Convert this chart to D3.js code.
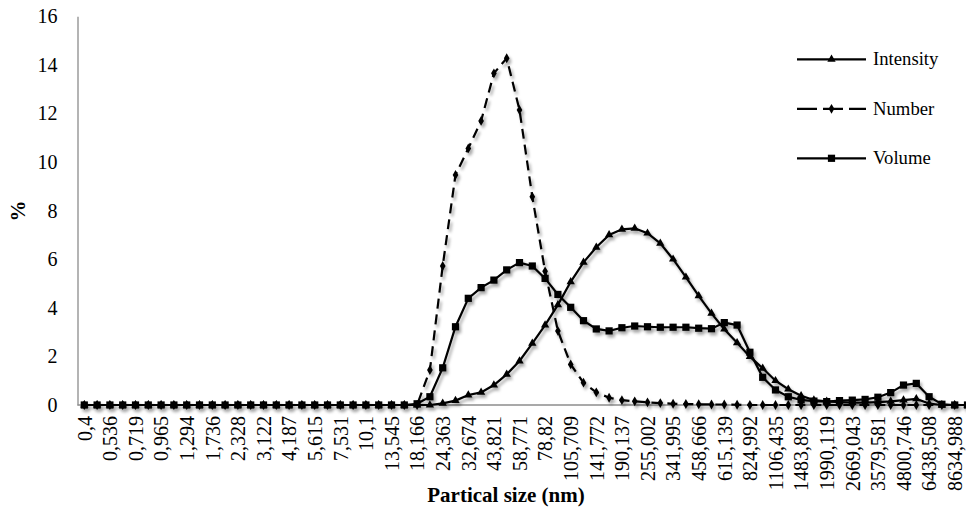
<!DOCTYPE html>
<html>
<head>
<meta charset="utf-8">
<script src="https://cdn.jsdelivr.net/npm/d3@7"></script>
<style>
  body { margin: 0; background: #fff; }
  svg, svg text { font-family: "Liberation Serif", "DejaVu Serif", "Times New Roman", Times, serif !important; }
</style>
</head>
<body>
<div class="chart"></div>
<script>
// DATA ------------------------------------**
const sizes = ['0,4','0,463','0,536','0,621','0,719','0,833','0,965','1,117','1,294','1,499',
  '1,736','2,01','2,328','2,696','3,122','3,615','4,187','4,849','5,615','6,503',
  '7,531','8,721','10,1','11,7','13,545','15,688','18,166','21,038','24,363','28,212',
  '32,674','37,84','43,821','50,746','58,771','68,058','78,82','91,277','105,709','122,416',
  '141,772','164,178','190,137','220,195','255,002','295,3','341,995','396,048','458,666','531,163',
  '615,139','712,379','824,992','955,4','1106,435','1281,35','1483,893','1718,67','1990,119','2305,09',
  '2669,043','3091,5','3579,581','4145,25','4800,746','5560,86','6438,508','7456,22','8634,988','10000'];

const intensity = [0,0,0,0,0,0,0,0,0,0, 0,0,0,0,0,0,0,0,0,0,
  0,0,0,0,0,0,0,0,0.07,0.18, 0.41,0.52,0.82,1.26,1.81,2.54,3.29,4.12,5.07,5.87,
  6.49,7.0,7.23,7.27,7.07,6.65,6.0,5.26,4.49,3.77, 3.12,2.56,1.99,1.51,1.0,0.65,0.38,0.2,0.15,0.12,
  0.1,0.1,0.12,0.15,0.2,0.25,0.06,0,0,0];

const number = [0,0,0,0,0,0,0,0,0,0, 0,0,0,0,0,0,0,0,0,0,
  0,0,0,0,0,0,0,1.44,5.72,9.47, 10.56,11.69,13.65,14.27,12.14,8.57,5.5,3.05,1.67,0.92,
  0.52,0.3,0.2,0.15,0.11,0.08,0.05,0.04,0.03,0.02, 0.02,0.01,0,0,0,0,0,0,0,0,
  0,0,0,0,0,0,0,0,0,0];

const volume = [0,0,0,0,0,0,0,0,0,0, 0,0,0,0,0,0,0,0,0,0,
  0,0,0,0,0,0,0.05,0.34,1.53,3.22, 4.39,4.83,5.14,5.56,5.86,5.72,5.21,4.55,4.02,3.47,
  3.13,3.05,3.18,3.25,3.22,3.2,3.2,3.2,3.16,3.14, 3.39,3.29,2.17,1.14,0.62,0.34,0.21,0.16,0.14,0.18,
  0.2,0.23,0.32,0.51,0.82,0.89,0.34,0.03,0,0];

const yTicks = [0, 2, 4, 6, 8, 10, 12, 14, 16];

const series = [
  {name: 'Intensity', values: intensity, symbol: d3.symbolTriangle, size: 30, dash: null},
  {name: 'Number', values: number, symbol: d3.symbolDiamond, size: 28, dash: '10,6'},
  {name: 'Volume', values: volume, symbol: d3.symbolSquare, size: 52, dash: null}
];

// CHART INIT ------------------------------**
const W = 966, H = 510;
const svg = d3.select('.chart').append('svg')
    .attr('width', W)
    .attr('height', H);

// excel-like soft shadow under the series
const filter = svg.append('defs').append('filter')
    .attr('id', 'shadow')
    .attr('x', '-10%').attr('y', '-10%')
    .attr('width', '120%').attr('height', '130%');
filter.append('feDropShadow')
    .attr('dx', 2).attr('dy', 3)
    .attr('stdDeviation', 1.8)
    .attr('flood-color', '#000')
    .attr('flood-opacity', 0.35);

let xScale = d3.scalePoint()
    .domain(sizes)
    .range([84.3, 84.3 + 12.8 * (sizes.length - 1)]);

let yScale = d3.scaleLinear()
    .domain([0, 16])
    .range([405, 16.2]);

// axes
let yAxis = d3.axisLeft(yScale)
    .tickValues(yTicks)
    .tickSize(0)
    .tickPadding(20);

svg.append('g')
    .attr('class', 'axis y-axis')
    .attr('transform', 'translate(77.5,0)')
    .call(yAxis)
    .call(g => g.attr('font-family', null))
    .call(g => g.select('.domain').attr('stroke', '#8c8c8c').attr('stroke-width', 1.3))
    .selectAll('text')
    .attr('font-size', 20)
    .attr('fill', '#000');

let xAxis = d3.axisBottom(xScale)
    .tickValues(sizes.filter((d, i) => i % 2 === 0))
    .tickSize(0)
    .tickSizeOuter(0);

svg.append('g')
    .attr('class', 'axis x-axis')
    .attr('transform', 'translate(0,405)')
    .call(xAxis)
    .call(g => g.attr('font-family', null))
    .call(g => g.select('.domain').remove())
    .selectAll('text')
    .attr('font-size', 20)
    .attr('fill', '#000')
    .attr('text-anchor', 'end')
    .attr('transform', 'rotate(-90)')
    .attr('x', -11)
    .attr('y', 0)
    .attr('dy', '0.34em');

svg.append('line')
    .attr('x1', 77.5).attr('x2', W)
    .attr('y1', yScale(0)).attr('y2', yScale(0))
    .attr('stroke', '#8c8c8c')
    .attr('stroke-width', 1.3);

// axis titles
svg.append('text')
    .attr('x', 506)
    .attr('y', 502)
    .attr('text-anchor', 'middle')
    .attr('font-size', 21)
    .attr('font-weight', 'bold')
    .text('Partical size (nm)');

svg.append('text')
    .attr('transform', 'translate(25,211) rotate(-90)')
    .attr('text-anchor', 'middle')
    .attr('font-size', 21)
    .attr('font-weight', 'bold')
    .text('%');

// SERIES ----------------------------------**
const line = d3.line()
    .x((d, i) => xScale(sizes[i]))
    .y(d => yScale(d));

const plot = svg.append('g').attr('filter', 'url(#shadow)');

series.forEach(s => {
    const g = plot.append('g').attr('class', 'series');
    g.append('path')
        .datum(s.values)
        .attr('fill', 'none')
        .attr('stroke', '#000')
        .attr('stroke-width', 2.2)
        .attr('stroke-dasharray', s.dash)
        .attr('d', line);
    g.selectAll('.marker')
        .data(s.values)
        .enter()
        .append('path')
        .attr('class', 'marker')
        .attr('d', d3.symbol().type(s.symbol).size(s.size))
        .attr('transform', (d, i) => 'translate(' + xScale(sizes[i]) + ',' + yScale(d) + ')')
        .attr('fill', '#000');
});

// LEGEND ----------------------------------**
const legend = svg.append('g').attr('class', 'legend');
series.forEach((s, i) => {
    const y = 59.3 + i * 49.5;
    legend.append('line')
        .attr('x1', 797).attr('x2', 866)
        .attr('y1', y).attr('y2', y)
        .attr('stroke', '#000')
        .attr('stroke-width', 2.2)
        .attr('stroke-dasharray', s.dash ? '20,6' : null);
    legend.append('path')
        .attr('d', d3.symbol().type(s.symbol).size(s.size))
        .attr('transform', 'translate(831.5,' + y + ')')
        .attr('fill', '#000');
    legend.append('text')
        .attr('x', 873)
        .attr('y', y)
        .attr('dy', '0.33em')
        .attr('font-size', 18.7)
        .text(s.name);
});
</script>
</body>
</html>
